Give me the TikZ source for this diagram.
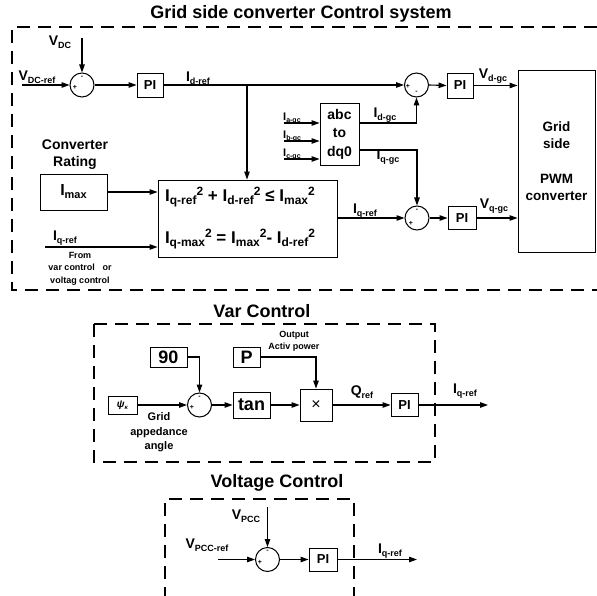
\documentclass[tikz,border=0pt]{standalone}
\usepackage{fontspec}
\setmainfont{Liberation Sans}
\usetikzlibrary{arrows.meta,calc}

% lowered / raised indices in text
\newcommand\dn[2][9]{\raisebox{-0.35ex}{\fontsize{#1}{#1}\selectfont #2}}
\newcommand\up[2][9]{\raisebox{0.75ex}{\fontsize{#1}{#1}\selectfont #2}}

\tikzset{
  blk/.style={draw, line width=0.9pt, inner sep=0pt, align=center,
              font=\bfseries\fontsize{13}{13}\selectfont},
  sumc/.style={draw, circle, minimum size=24pt, inner sep=0pt, line width=1pt},
  sgn/.style={inner sep=0pt, font=\bfseries\fontsize{7}{7}\selectfont},
  lbl/.style={inner sep=0pt, font=\bfseries\fontsize{14}{14}\selectfont},
  eqn/.style={inner sep=0pt, font=\bfseries\fontsize{17}{17}\selectfont},
  note/.style={inner sep=0pt, align=center, font=\bfseries\fontsize{9}{12.5}\selectfont},
  ttl/.style={inner sep=0pt, font=\bfseries\fontsize{18}{18}\selectfont},
  arr/.style={line width=1.1pt, -{Triangle[length=8pt,width=5.5pt]}},
  frame/.style={line width=1.8pt, dash pattern=on 13pt off 8pt},
}

\begin{document}
\begin{tikzpicture}[x=1pt,y=-1pt]
\useasboundingbox (0,0) rectangle (597,596);

% ---------------- grid side converter control ----------------
\node[ttl] (tmain) at (301,14) {Grid side converter Control system};
\draw[frame] (597,27) -- (12,27) -- (12,290) -- (597,290);

\node[lbl] (vdc) at (60,42) {V\dn{DC}};
\coordinate (vdcin) at (82,38);
\node[lbl] (vdcref) at (37,77) {V\dn{DC-ref}};
\coordinate (vdcrefin) at (22,85);
\node[sumc] (s1) at (82,85) {};
\node[sgn] (s1m) at (82,77) {-};
\node[sgn] (s1p) at (75,87) {+};
\node[blk, minimum width=26pt, minimum height=24pt] (pi1) at (150,85) {PI};
\node[lbl] (idref) at (198,78) {I\dn{d-ref}};
\coordinate (br) at (247,85);

\node[sumc] (s2) at (416.5,85) {};
\node[sgn] (s2p) at (408,86) {+};
\node[sgn] (s2m) at (416.5,92) {-};
\node[blk, minimum width=26pt, minimum height=25pt] (pi2) at (460,85.5) {PI};
\node[lbl] (vdgc) at (493,76) {V\dn{d-gc}};

\node[blk, minimum width=77pt, minimum height=182pt,
      font=\bfseries\fontsize{13.5}{17.5}\selectfont] (grid) at (556.5,161)
      {Grid\\side\\[17pt]PWM\\converter};

\node[blk, minimum width=39pt, minimum height=62pt,
      font=\bfseries\fontsize{14}{18.5}\selectfont] (abc) at (339.5,134) {abc\\to\\dq0};
\node[inner sep=0pt, anchor=base west, font=\bfseries\fontsize{11}{11}\selectfont]
      (ia) at (283,120.5) {I\dn[7]{a-gc}};
\node[inner sep=0pt, anchor=base west, font=\bfseries\fontsize{11}{11}\selectfont]
      (ib) at (283,138.5) {I\dn[7]{b-gc}};
\node[inner sep=0pt, anchor=base west, font=\bfseries\fontsize{11}{11}\selectfont]
      (ic) at (283,156.5) {I\dn[7]{c-gc}};
\coordinate (iain) at (284,123);
\coordinate (ibin) at (284,141);
\coordinate (icin) at (284,159);
\node[lbl] (idgc) at (385,115) {I\dn{d-gc}};
\node[lbl] (iqgc) at (388,157) {I\dn{q-gc}};

\node[lbl, align=center, font=\bfseries\fontsize{14}{17}\selectfont] (rating) at (75,154.5)
      {Converter\\Rating};
\node[blk, minimum width=67pt, minimum height=36pt,
      font=\bfseries\fontsize{16}{16}\selectfont] (imax) at (73.5,192) {I\dn[11]{max}};

\node[draw, line width=0.9pt, minimum width=179pt, minimum height=77pt] (fbox) at (247.5,218.5) {};
\node[eqn] (eq1) at (240,197)
      {I\dn[12]{q-ref}\up[12]{2} + I\dn[12]{d-ref}\up[12]{2} ≤ I\dn[12]{max}\up[12]{2}};
\node[eqn] (eq2) at (240,239)
      {I\dn[12]{q-max}\up[12]{2} = I\dn[12]{max}\up[12]{2}- I\dn[12]{d-ref}\up[12]{2}};

\node[lbl] (iqin) at (65,238) {I\dn{q-ref}};
\coordinate (iqstart) at (45,247);
\node[note] (from) at (80,268.5) {From\\var control~~~or\\voltag control};

\node[sumc] (s3) at (417,218) {};
\node[sgn] (s3m) at (417,210) {-};
\node[sgn] (s3p) at (411,223) {+};
\node[lbl] (iqref) at (365,211) {I\dn{q-ref}};
\node[blk, minimum width=28pt, minimum height=23pt] (pi3) at (462,218) {PI};
\node[lbl] (vqgc) at (494,206) {V\dn{q-gc}};

% connectors
\draw[arr] (vdcin) -- (s1.north);
\draw[arr] (vdcrefin) -- (s1.west);
\draw[arr] (s1.east) -- (pi1.west);
\draw[arr] (pi1.east) -- (s2.west);
\draw[arr] (br) -- (br |- fbox.north);
\draw[arr] (s2.east) -- (pi2.west);
\draw[arr] (pi2.east) -- (pi2.east -| grid.west);
\draw[arr] (iain) -- (iain -| abc.west);
\draw[arr] (ibin) -- (ibin -| abc.west);
\draw[arr] (icin) -- (icin -| abc.west);
\draw[arr] ($(abc.east)+(0,-11)$) -| (s2.south);
\draw[arr] ($(abc.east)+(0,16)$) -| (s3.north);
\draw[arr] (imax.east) -- (imax.east -| fbox.west);
\draw[arr] (iqstart) -- (iqstart -| fbox.west);
\draw[arr] (s3.west -| fbox.east) -- (s3.west);
\draw[arr] (s3.east) -- (pi3.west);
\draw[arr] (pi3.east) -- (pi3.east -| grid.west);

% ---------------- var control ----------------
\node[ttl] (tvar) at (262,311) {Var Control};
\draw[frame] (94,324) rectangle (435,462);

\node[blk, minimum width=37pt, minimum height=20pt,
      font=\bfseries\fontsize{18}{18}\selectfont] (n90) at (168.5,357) {90};
\node[blk, minimum width=27pt, minimum height=20pt,
      font=\bfseries\fontsize{18}{18}\selectfont] (pw) at (246.5,357) {P};
\node[note] (outp) at (294,341.5) {Output\\Activ power};
\node[blk, minimum width=29pt, minimum height=18pt,
      font=\bfseries\itshape\fontsize{10}{10}\selectfont] (psi) at (122.5,405) {ψ\dn[6]{κ}};
\node[note, font=\bfseries\fontsize{11}{14.5}\selectfont] (gang) at (159,432.5)
      {Grid\\appedance\\angle};
\node[sumc] (sv) at (199.5,405) {};
\node[sgn] (svp) at (192,407) {+};
\node[sgn] (svm) at (199.5,397) {-};
\node[blk, minimum width=37pt, minimum height=26pt,
      font=\bfseries\fontsize{18}{18}\selectfont] (tan) at (251.5,405) {tan};
\node[blk, minimum width=32pt, minimum height=32pt,
      font=\fontsize{16}{16}\selectfont] (mul) at (316,405) {×};
\node[lbl] (qref) at (362,392) {Q\dn{ref}};
\node[blk, minimum width=27pt, minimum height=23pt] (pi4) at (404.5,405) {PI};
\coordinate (vout) at (488,405);
\node[lbl] (iqv) at (465,391) {I\dn{q-ref}};

\draw[arr] (n90.east) -| (sv.north);
\draw[arr] (psi.east) -- (sv.west);
\draw[arr] (sv.east) -- (tan.west);
\draw[arr] (tan.east) -- (mul.west);
\draw[arr] (pw.east) -| (mul.north);
\draw[arr] (mul.east) -- (pi4.west);
\draw[arr] (pi4.east) -- (vout);

% ---------------- voltage control ----------------
\node[ttl] (tvolt) at (277,483) {Voltage Control};
\draw[frame] (165,600) -- (165,499) -- (354,499) -- (354,600);

\node[lbl] (vpcc) at (246,516) {V\dn{PCC}};
\coordinate (vpccin) at (267.5,507);
\node[lbl] (vpccref) at (207,545) {V\dn{PCC-ref}};
\coordinate (vpccrefin) at (218,559.5);
\node[sumc] (sc) at (267.5,559.5) {};
\node[sgn] (scp) at (260,562) {+};
\node[sgn] (scm) at (267.5,551) {-};
\node[blk, minimum width=28pt, minimum height=23pt] (pi5) at (323,559.5) {PI};
\coordinate (cout) at (417,559.5);
\node[lbl] (iqc) at (390,551) {I\dn{q-ref}};

\draw[arr] (vpccin) -- (sc.north);
\draw[arr] (vpccrefin) -- (sc.west);
\draw[arr] (sc.east) -- (pi5.west);
\draw[arr] (pi5.east) -- (cout);
\end{tikzpicture}
\end{document}
